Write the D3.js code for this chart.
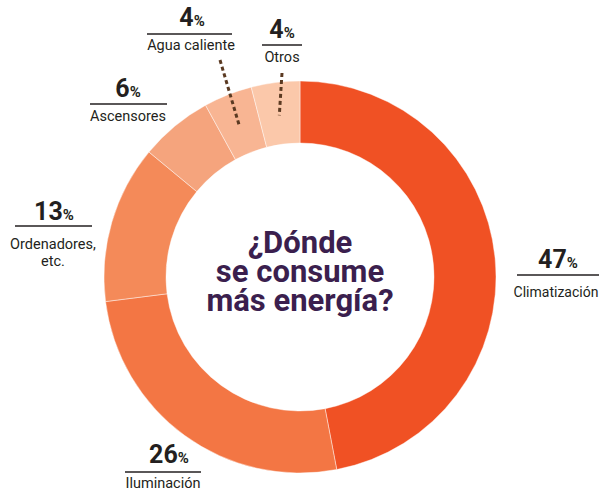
<!DOCTYPE html>
<html>
<head>
<meta charset="utf-8">
<script src="https://cdn.jsdelivr.net/npm/d3@7"></script>
<style>
  html, body { margin: 0; padding: 0; background: #fff; }
  svg { display: block; }
</style>
</head>
<body>
<svg id="chart" width="599" height="492"></svg>
<script>
// ---- data ----
const categories = ["Climatización", "Iluminación", "Ordenadores, etc.", "Ascensores", "Agua caliente", "Otros"];
const values = [47, 26, 13, 6, 4, 4];
const labelLines = [["Climatización"], ["Iluminación"], ["Ordenadores,", "etc."], ["Ascensores"], ["Agua caliente"], ["Otros"]];
const colors = ["#F05124", "#F37644", "#F48A59", "#F5A47D", "#F8B593", "#FBC8AA"];
const titleLines = ["¿Dónde", "se consume", "más energía?"];

// ---- layout (not data) ----
const layout = [
  { nx: 558, ny: 268, lx1: 517, lx2: 600, ly: 275, tx: 556, ty: 297, fs: 14 },
  { nx: 169, ny: 463, lx1: 125, lx2: 201, ly: 472, tx: 163, ty: 488 },
  { nx: 54,  ny: 220, lx1: 15,  lx2: 92,  ly: 226, tx: 53,  ty: 249 },
  { nx: 128, ny: 97,  lx1: 90,  lx2: 167, ly: 104, tx: 128, ty: 121 },
  { nx: 192, ny: 26,  lx1: 147, lx2: 232, ly: 34,  tx: 191, ty: 50, leader: [220, 60] },
  { nx: 282, ny: 38,  lx1: 262, lx2: 302, ly: 45,  tx: 282, ty: 62, leader: [282, 73] }
];

const cx = 300, cy = 277, outerR = 196, innerR = 134;
const svg = d3.select("#chart");
const g = svg.append("g").attr("transform", `translate(${cx},${cy})`);

const data = categories.map((c, i) => ({ cat: c, value: values[i], i }));
const pie = d3.pie().value(d => d.value).sort(null);
const arc = d3.arc().innerRadius(innerR).outerRadius(outerR);
const arcs = pie(data);

g.selectAll("path.slice").data(arcs).enter().append("path")
  .attr("class", "slice")
  .attr("d", arc)
  .attr("fill", d => colors[d.data.i])
  .attr("stroke", "rgba(255,255,255,0.55)")
  .attr("stroke-width", 0.8);

// leader lines
arcs.forEach(a => {
  const L = layout[a.data.i];
  if (!L.leader) return;
  const c = arc.centroid(a);
  svg.append("line")
    .attr("x1", L.leader[0]).attr("y1", L.leader[1])
    .attr("x2", cx + c[0]).attr("y2", cy + c[1] + 2)
    .attr("stroke", "#5B3A22").attr("stroke-width", 3)
    .attr("stroke-dasharray", "4,3");
});

// labels
const font = "Roboto, 'Noto Sans', sans-serif";
data.forEach(d => {
  const L = layout[d.i];
  const t = svg.append("text")
    .attr("x", L.nx).attr("y", L.ny)
    .attr("text-anchor", "middle")
    .attr("font-family", font).attr("font-weight", 700)
    .attr("fill", "#231F20");
  t.append("tspan").attr("font-size", 25).text(d.value);
  t.append("tspan").attr("font-size", 15).text("%");
  svg.append("line")
    .attr("x1", L.lx1).attr("x2", L.lx2).attr("y1", L.ly).attr("y2", L.ly)
    .attr("stroke", "#231F20").attr("stroke-width", 1.5);
  labelLines[d.i].forEach((s, k) => {
    svg.append("text")
      .attr("x", L.tx).attr("y", L.ty + k * 17)
      .attr("text-anchor", "middle")
      .attr("font-family", font).attr("font-size", L.fs || 14.5)
      .attr("fill", "#231F20")
      .text(s);
  });
});

// title (one multi-line text)
const title = svg.append("text")
  .attr("text-anchor", "middle")
  .attr("font-family", font).attr("font-weight", 700)
  .attr("font-size", 31)
  .attr("fill", "#3B1F4E");
titleLines.forEach((s, k) => {
  title.append("tspan")
    .attr("x", cx).attr("y", 253 + k * 29)
    .text(s);
});
</script>
</body>
</html>
